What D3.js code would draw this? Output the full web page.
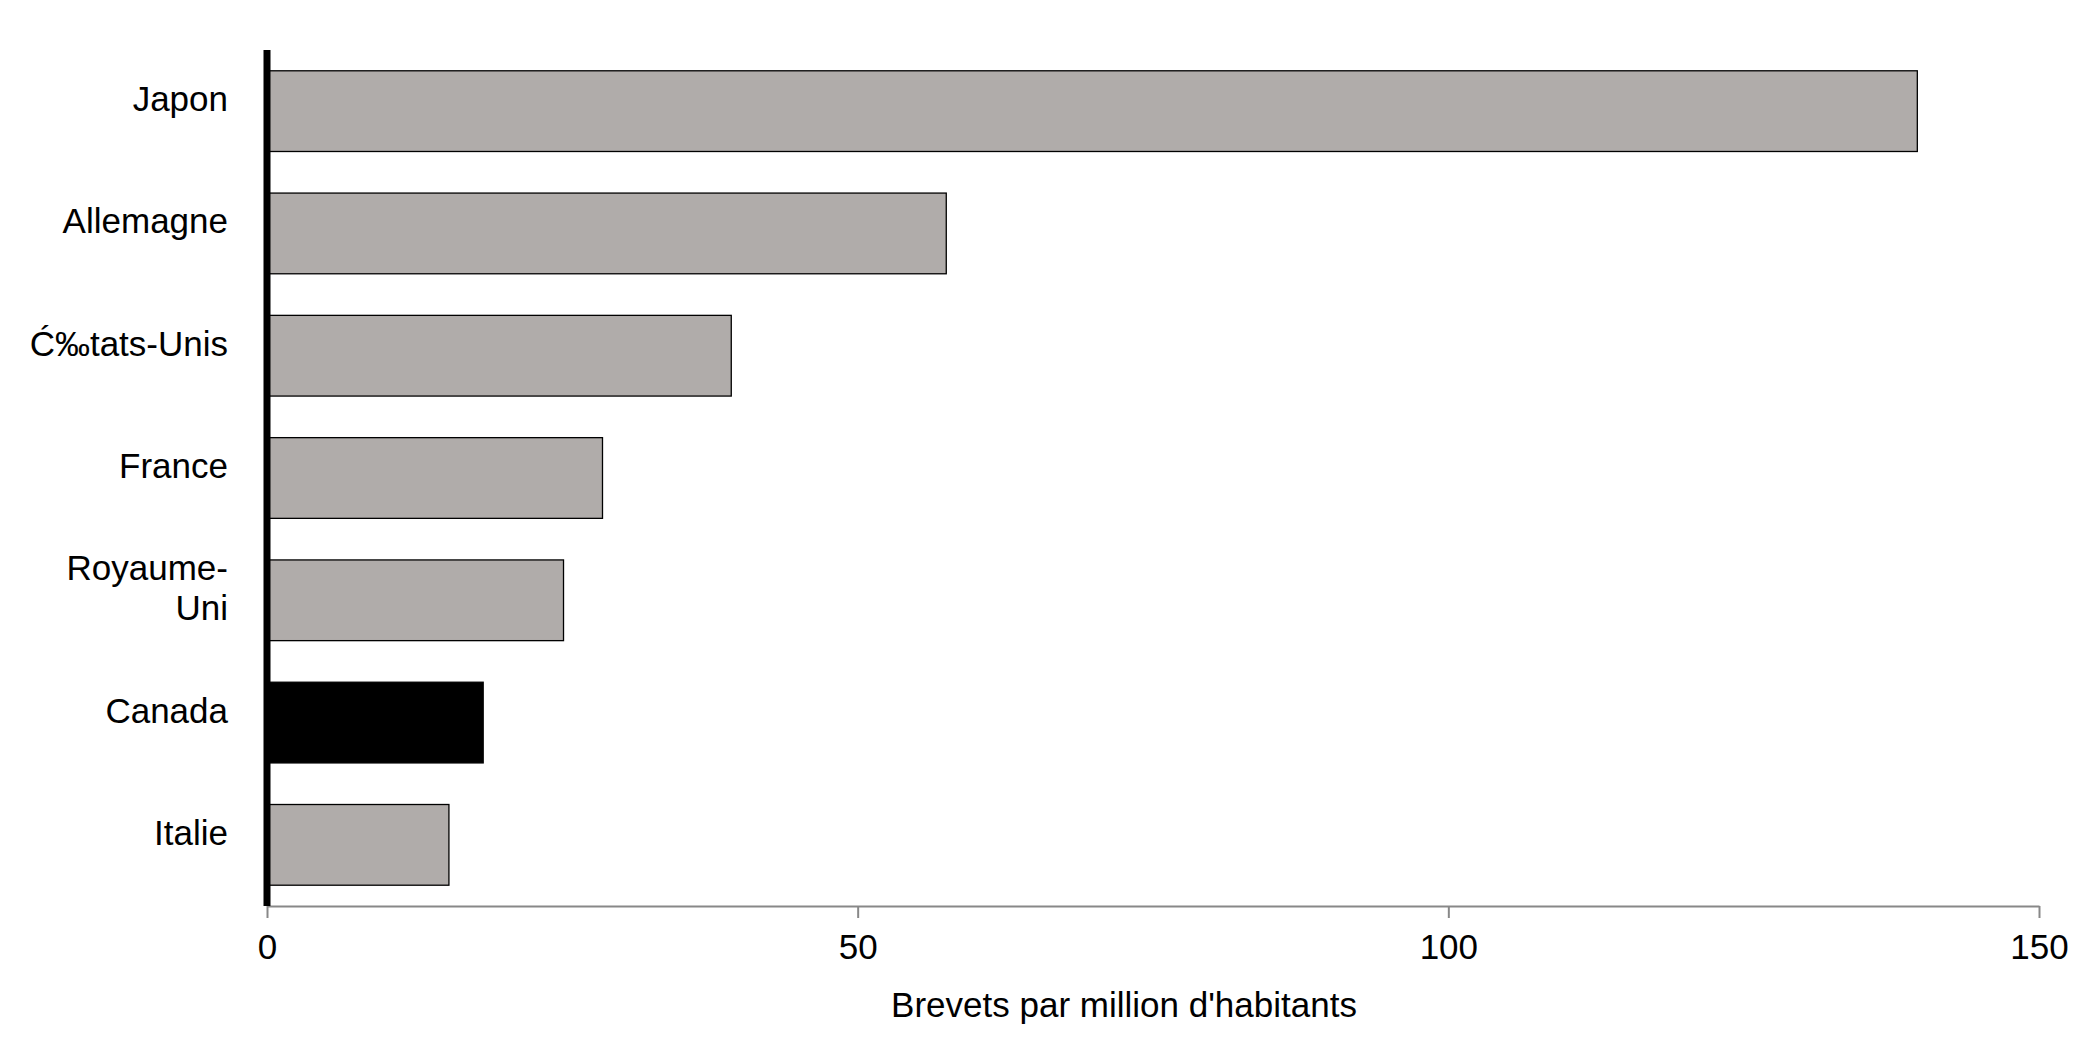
<!DOCTYPE html>
<html>
<head>
<style>
body { margin: 0; background: white; }
text { font-family: "Liberation Sans", Arial, sans-serif; fill: black; }
</style>
</head>
<body>
<script src="https://d3js.org/d3.v7.min.js"></script>
<svg id="chart" width="2091" height="1039"></svg>
<script>
const countries = ['Japon', 'Allemagne', 'États-Unis', 'France', 'Royaume-Uni', 'Canada', 'Italie'];
const labels = [['Japon'], ['Allemagne'], ['États-Unis'], ['France'], ['Royaume-', 'Uni'], ['Canada'], ['Italie']];
const values = [139.7, 57.5, 39.3, 28.4, 25.1, 18.3, 15.4];
const ticks = [0, 50, 100, 150];

const plotLeft = 267, plotRight = 2039, plotTop = 50, plotBottom = 906;
const svg = d3.select('#chart');

const x = d3.scaleLinear().domain([0, 150]).range([plotLeft, plotRight]);
const y = d3.scaleBand().domain(countries).range([plotTop, plotBottom]).paddingInner(0.34).paddingOuter(0.17);

svg.selectAll('rect.bar')
    .data(countries)
    .enter()
    .append('rect')
        .attr('class', 'bar')
        .attr('x', x(0))
        .attr('y', d => y(d))
        .attr('width', (d, i) => x(values[i]) - x(0))
        .attr('height', y.bandwidth())
        .attr('fill', d => d === 'Canada' ? '#000' : '#b0acaa')
        .attr('stroke', '#000')
        .attr('stroke-width', 1.3);

// x axis
const xAxis = svg.append('g')
    .attr('transform', `translate(0,${plotBottom})`)
    .call(d3.axisBottom(x).tickValues(ticks).tickSize(12).tickPadding(16).tickSizeOuter(0));
xAxis.select('.domain').attr('stroke', '#888').attr('stroke-width', 2);
xAxis.selectAll('.tick line').attr('stroke', '#888').attr('stroke-width', 2);
xAxis.selectAll('text').style('font-size', '35px').style('font-family', '"Liberation Sans", Arial, sans-serif');

// y axis (thick black)
svg.append('line')
    .attr('x1', x(0)).attr('x2', x(0))
    .attr('y1', plotTop).attr('y2', plotBottom)
    .attr('stroke', '#000').attr('stroke-width', 7);

// category labels
const lab = svg.selectAll('text.cat')
    .data(countries)
    .enter()
    .append('text')
        .attr('class', 'cat')
        .attr('text-anchor', 'end')
        .style('font-size', '35px')
        .attr('x', 228)
        .attr('y', (d, i) => y(d) + y.bandwidth() / 2 - (labels[i].length - 1) * 20)
        .attr('dy', '0.35em');
lab.selectAll('tspan')
    .data((d, i) => labels[i])
    .enter()
    .append('tspan')
        .attr('x', 228)
        .attr('dy', (d, j) => j === 0 ? 0 : 40)
        .text(d => d);

svg.append('text')
    .attr('x', 1124)
    .attr('y', 1017)
    .attr('text-anchor', 'middle')
    .style('font-size', '35px')
    .text("Brevets par million d'habitants");
</script>
</body>
</html>
